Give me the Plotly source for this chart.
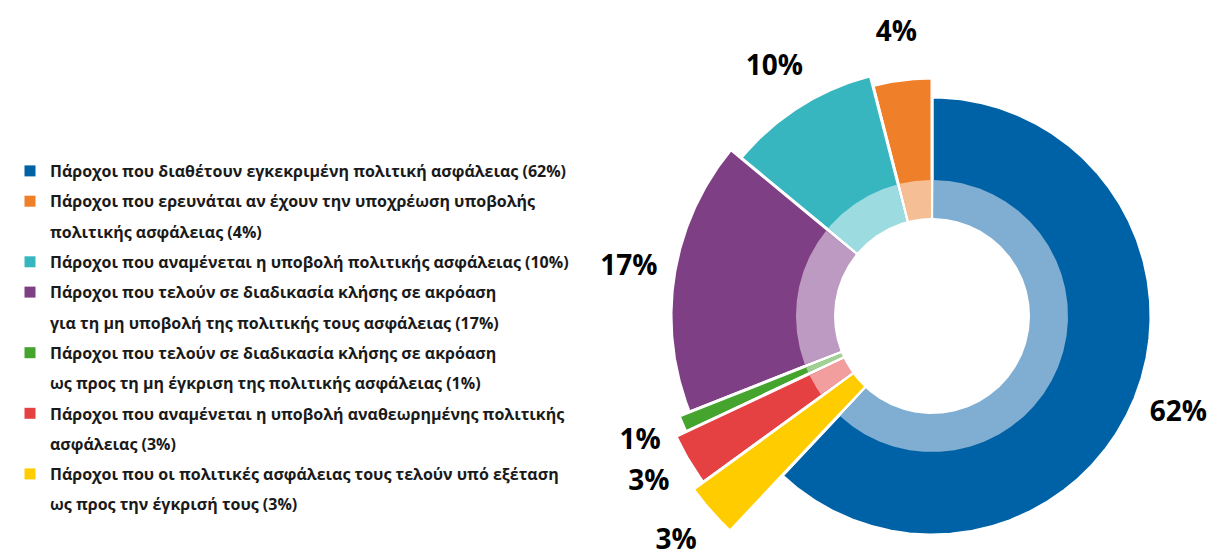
import math
import numpy as np
import plotly.graph_objects as go

# ---------------- data ----------------
CATEGORY_LINES = [
    ["Πάροχοι που διαθέτουν εγκεκριμένη πολιτική ασφάλειας"],
    ["Πάροχοι που ερευνάται αν έχουν την υποχρέωση υποβολής", "πολιτικής ασφάλειας"],
    ["Πάροχοι που αναμένεται η υποβολή πολιτικής ασφάλειας"],
    ["Πάροχοι που τελούν σε διαδικασία κλήσης σε ακρόαση",
     "για τη μη υποβολή της πολιτικής τους ασφάλειας"],
    ["Πάροχοι που τελούν σε διαδικασία κλήσης σε ακρόαση",
     "ως προς τη μη έγκριση της πολιτικής ασφάλειας"],
    ["Πάροχοι που αναμένεται η υποβολή αναθεωρημένης πολιτικής", "ασφάλειας"],
    ["Πάροχοι που οι πολιτικές ασφάλειας τους τελούν υπό εξέταση",
     "ως προς την έγκρισή τους"],
]
PERCENTAGES = [62, 4, 10, 17, 1, 3, 3]

# ---------------- style ----------------
COLORS = ["#0062A6", "#F07F2A", "#38B6C0", "#7F3F84", "#44A42D", "#E64142", "#FFCC00"]
INNER_COLORS = ["#7FAED2", "#F6BE94", "#9CDBDF", "#BD9AC1", "#A2D196", "#F29E9F", "#FFCC00"]
OUTER_RADII = [219, 238, 248, 261, 272, 283, 295]   # axis units == px
HOLE_R = 98
RING_R = 136
LABEL_GAP = 46
LINE_W = 3

W, H = 1216, 556
CX, CY = 924, 308          # pie centre in px (from top-left)


def sector(r0, r1, a0, a1):
    """Annular sector; angles in degrees, counter-clockwise from 12 o'clock."""
    n = max(int(abs(a1 - a0) / 0.5) + 2, 3)
    t = np.radians(np.linspace(a0, a1, n))
    xs = np.concatenate([-r1 * np.sin(t), -r0 * np.sin(t[::-1])])
    ys = np.concatenate([r1 * np.cos(t), r0 * np.cos(t[::-1])])
    return np.append(xs, xs[0]), np.append(ys, ys[0])


total = sum(PERCENTAGES)
spans = [p / total * 360 for p in PERCENTAGES]
starts = []
acc = -spans[0]
for s in spans:
    starts.append(acc)
    acc += s
mids = [st + s / 2 for st, s in zip(starts, spans)]

fig = go.Figure()

# outer (dark) slices
for i in range(len(PERCENTAGES)):
    xs, ys = sector(HOLE_R, OUTER_RADII[i], starts[i], starts[i] + spans[i])
    fig.add_trace(go.Scatter(
        x=xs, y=ys, mode="lines", fill="toself", fillcolor=COLORS[i],
        line=dict(color="white", width=LINE_W), showlegend=False, hoverinfo="skip",
    ))

# inner (light) ring
inset = math.degrees((LINE_W / 2) / ((HOLE_R + RING_R) / 2))
for i in range(len(PERCENTAGES)):
    xs, ys = sector(HOLE_R, RING_R, starts[i] + inset, starts[i] + spans[i] - inset)
    fig.add_trace(go.Scatter(
        x=xs, y=ys, mode="lines", fill="toself", fillcolor=INNER_COLORS[i],
        line=dict(width=0, color=INNER_COLORS[i]), showlegend=False, hoverinfo="skip",
    ))

# percentage labels
lab_r = [rr + LABEL_GAP for rr in OUTER_RADII]
fig.add_trace(go.Scatter(
    x=[-r * math.sin(math.radians(a)) for r, a in zip(lab_r, mids)],
    y=[r * math.cos(math.radians(a)) for r, a in zip(lab_r, mids)],
    mode="text", text=[f"{p}%" for p in PERCENTAGES],
    textfont=dict(family="Open Sans", size=28, color="#000000", weight="bold"),
    cliponaxis=False, showlegend=False, hoverinfo="skip",
))

# legend entries
for i, lines in enumerate(CATEGORY_LINES):
    label_lines = list(lines)
    label_lines[-1] = f"{label_lines[-1]} ({PERCENTAGES[i]}%)"
    for j, txt in enumerate(label_lines):
        fig.add_trace(go.Scatter(
            x=[None], y=[None], mode="markers",
            marker=dict(symbol="square", size=11,
                        color=COLORS[i] if j == 0 else "rgba(0,0,0,0)"),
            name=txt, legendgroup=f"g{i}_{j}", showlegend=True, hoverinfo="skip",
        ))

fig.update_layout(
    width=W, height=H,
    margin=dict(l=0, r=0, t=0, b=0, pad=0, autoexpand=False),
    paper_bgcolor="white", plot_bgcolor="white",
    xaxis=dict(visible=False, range=[-CX, W - CX], fixedrange=True),
    yaxis=dict(visible=False, range=[-(H - CY), CY], fixedrange=True),
    legend=dict(
        x=2 / W, y=1 - 146 / H, xanchor="left", yanchor="top",
        font=dict(family="Open Sans", size=16, color="#1a1a1a", weight="bold"),
        traceorder="grouped", tracegroupgap=6.5, bgcolor="rgba(0,0,0,0)",
    ),
    showlegend=True,
)

fig.write_html("out.html")
